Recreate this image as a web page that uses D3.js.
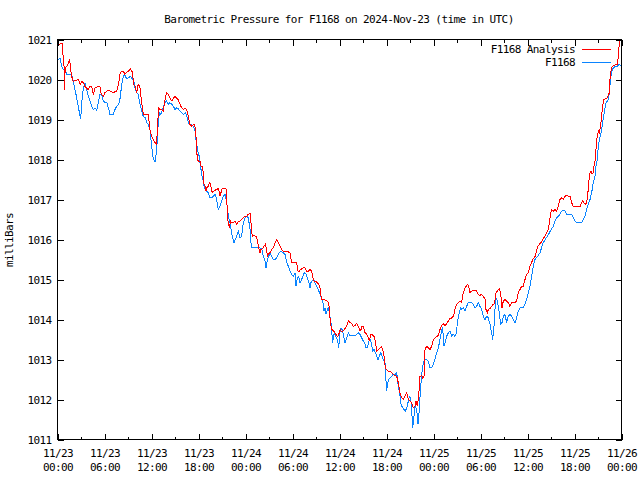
<!DOCTYPE html>
<html>
<head>
<meta charset="utf-8">
<script src="https://cdn.jsdelivr.net/npm/d3@7"></script>
<style>
  body { margin: 0; background: #fff; }
  text { font-family: 'DejaVu Sans Mono', monospace; font-size: 11px; letter-spacing: -0.6px; fill: #000; }
</style>
</head>
<body>
<svg id="chart"></svg>
<script>
const title = 'Barometric Pressure for F1168 on 2024-Nov-23 (time in UTC)'
const yLabel = 'milliBars'
const seriesNames = ['F1168 Analysis', 'F1168']
const seriesColors = ['#ff0000', '#0a84ff']
const yTicks = [1011, 1012, 1013, 1014, 1015, 1016, 1017, 1018, 1019, 1020, 1021]
const xTickHours = [0, 6, 12, 18, 24, 30, 36, 42, 48, 54, 60, 66, 72]
const xMinorHours = [3, 9, 15, 21, 27, 33, 39, 45, 51, 57, 63, 69]

// hours since 2024-11-23 00:00 UTC
const analysisHours = [0.0, 0.4, 0.66, 0.7, 0.83, 0.87, 0.96, 1.1, 1.3, 1.4, 1.55, 1.65, 1.8, 2.0, 2.45, 2.66, 2.9, 3.1, 3.3, 3.5, 3.7, 3.9, 4.15, 4.36, 4.57, 4.8, 5.2, 5.4, 5.6, 5.85, 6.06, 6.3, 6.5, 6.7, 6.9, 7.1, 7.3, 7.55, 7.8, 8.0, 8.2, 8.4, 8.6, 8.8, 9.05, 9.3, 9.5, 9.6, 9.7, 9.9, 10.1, 10.3, 10.5, 10.75, 10.95, 11.4, 11.6, 11.8, 12.0, 12.2, 12.45, 12.65, 12.75, 12.9, 13.1, 13.3, 13.5, 13.7, 13.9, 14.15, 14.35, 14.6, 14.8, 15.0, 15.2, 15.4, 15.65, 15.85, 16.1, 16.3, 16.5, 16.7, 16.9, 17.15, 17.43, 17.55, 17.68, 17.77, 17.85, 18.0, 18.19, 18.32, 18.53, 18.62, 18.7, 18.83, 18.96, 19.04, 19.26, 19.38, 19.55, 19.68, 19.81, 19.98, 20.23, 20.53, 20.66, 20.74, 20.87, 21.0, 21.51, 21.6, 21.72, 21.81, 21.94, 22.11, 22.23, 22.45, 22.66, 22.87, 23.09, 23.3, 23.51, 23.72, 23.94, 24.15, 24.36, 24.58, 24.7, 24.79, 24.92, 25.09, 25.34, 25.51, 25.68, 25.85, 25.98, 26.19, 26.36, 26.53, 26.7, 26.79, 26.91, 27.13, 27.34, 27.55, 27.77, 27.98, 28.19, 28.4, 28.62, 28.83, 29.04, 29.26, 29.47, 29.68, 29.89, 30.1, 30.32, 30.53, 30.7, 30.87, 31.04, 31.21, 31.38, 31.6, 31.81, 32.02, 32.23, 32.45, 32.57, 32.74, 33.0, 33.17, 33.34, 33.51, 33.64, 33.77, 34.36, 34.58, 34.7, 34.79, 34.92, 35.04, 35.22, 35.43, 35.64, 35.77, 35.98, 36.07, 36.2, 36.41, 36.58, 36.75, 36.92, 37.05, 37.17, 37.34, 37.56, 37.77, 37.98, 38.19, 38.41, 38.62, 38.75, 38.87, 39.05, 39.26, 39.47, 39.68, 39.81, 39.98, 40.11, 40.24, 40.41, 40.58, 40.75, 40.96, 41.17, 41.39, 41.51, 41.6, 41.73, 41.85, 42.02, 42.24, 42.45, 42.66, 42.87, 43.09, 43.3, 43.51, 43.73, 43.94, 44.15, 44.36, 44.58, 44.79, 45.0, 45.21, 45.43, 45.64, 45.77, 45.94, 46.07, 46.2, 46.28, 46.49, 46.62, 46.79, 46.92, 47.13, 47.34, 47.56, 47.77, 47.98, 48.19, 48.4, 48.62, 48.83, 49.05, 49.26, 49.47, 49.68, 49.9, 50.1, 50.32, 50.53, 50.66, 50.78, 50.95, 51.17, 51.38, 51.59, 51.8, 52.02, 52.23, 52.36, 52.53, 52.66, 52.87, 53.29, 53.51, 53.72, 53.93, 54.15, 54.36, 54.57, 54.7, 54.87, 55.0, 55.21, 55.42, 55.63, 55.8, 55.98, 56.15, 56.4, 56.57, 56.74, 56.91, 57.12, 57.34, 57.55, 57.76, 57.98, 58.19, 58.4, 58.61, 58.83, 59.04, 59.25, 59.46, 59.68, 59.89, 60.1, 60.32, 60.53, 60.66, 61.0, 61.3, 61.7, 62.2, 62.66, 62.78, 62.95, 63.08, 63.3, 63.51, 63.72, 63.93, 64.15, 64.36, 64.57, 64.78, 65.0, 65.21, 65.42, 65.64, 65.85, 66.06, 66.27, 66.49, 66.7, 66.91, 67.04, 67.21, 67.38, 67.55, 67.68, 67.81, 67.98, 68.1, 68.23, 68.4, 68.49, 68.66, 68.83, 69.04, 69.17, 69.25, 69.42, 69.59, 69.76, 70.02, 70.19, 70.44, 70.53, 70.7, 70.87, 71.04, 71.3, 71.47, 71.6, 71.72, 71.81]
const analysisValues = [1020.85, 1020.9, 1020.9, 1020.62, 1020.33, 1019.75, 1020.17, 1020.33, 1020.35, 1020.42, 1020.5, 1020.3, 1020.08, 1019.96, 1019.98, 1020.0, 1019.88, 1019.96, 1019.92, 1019.83, 1019.79, 1019.75, 1019.83, 1019.82, 1019.62, 1019.79, 1019.83, 1019.83, 1019.62, 1019.58, 1019.67, 1019.71, 1019.72, 1019.71, 1019.69, 1019.67, 1019.69, 1019.71, 1019.88, 1020.17, 1020.21, 1020.21, 1020.13, 1020.17, 1020.21, 1020.27, 1020.21, 1020.13, 1019.88, 1019.83, 1019.67, 1019.88, 1019.83, 1019.42, 1019.13, 1019.13, 1019.13, 1018.75, 1018.58, 1018.5, 1018.42, 1018.38, 1018.75, 1019.29, 1019.25, 1019.25, 1019.21, 1019.46, 1019.67, 1019.63, 1019.54, 1019.46, 1019.54, 1019.58, 1019.54, 1019.5, 1019.38, 1019.29, 1019.25, 1019.29, 1019.25, 1019.08, 1018.88, 1018.83, 1018.88, 1018.83, 1018.58, 1018.25, 1018.0, 1017.96, 1017.96, 1017.83, 1017.82, 1017.63, 1017.38, 1017.33, 1017.21, 1017.29, 1017.33, 1017.42, 1017.38, 1017.21, 1017.17, 1017.21, 1017.25, 1017.27, 1017.17, 1017.08, 1017.17, 1017.27, 1017.27, 1017.0, 1016.58, 1016.38, 1016.33, 1016.46, 1016.42, 1016.42, 1016.46, 1016.38, 1016.46, 1016.46, 1016.5, 1016.54, 1016.58, 1016.58, 1016.63, 1016.65, 1016.42, 1016.17, 1016.08, 1016.1, 1016.08, 1016.0, 1015.79, 1015.67, 1015.75, 1015.77, 1015.83, 1015.88, 1015.75, 1015.58, 1015.63, 1015.67, 1015.75, 1015.79, 1015.92, 1016.0, 1015.92, 1015.83, 1015.75, 1015.71, 1015.69, 1015.71, 1015.69, 1015.67, 1015.42, 1015.42, 1015.42, 1015.42, 1015.21, 1015.21, 1015.25, 1015.27, 1015.29, 1015.29, 1015.21, 1015.21, 1015.25, 1015.21, 1015.08, 1014.96, 1014.96, 1014.92, 1014.88, 1014.79, 1014.58, 1014.5, 1014.48, 1014.42, 1014.29, 1014.04, 1013.83, 1013.75, 1013.71, 1013.67, 1013.6, 1013.57, 1013.67, 1013.75, 1013.71, 1013.71, 1013.73, 1013.79, 1013.83, 1013.92, 1013.96, 1013.93, 1013.9, 1013.83, 1013.85, 1013.9, 1013.83, 1013.71, 1013.75, 1013.83, 1013.82, 1013.67, 1013.63, 1013.54, 1013.46, 1013.63, 1013.63, 1013.6, 1013.58, 1013.46, 1013.21, 1013.25, 1013.29, 1013.32, 1013.25, 1013.17, 1013.04, 1012.79, 1012.75, 1012.71, 1012.71, 1012.67, 1012.63, 1012.6, 1012.58, 1012.42, 1012.17, 1012.04, 1012.0, 1012.08, 1012.17, 1012.0, 1011.96, 1011.92, 1011.79, 1011.83, 1011.96, 1011.83, 1012.04, 1012.33, 1012.58, 1012.6, 1012.54, 1012.58, 1013.25, 1013.33, 1013.29, 1013.25, 1013.33, 1013.5, 1013.54, 1013.57, 1013.6, 1013.75, 1013.85, 1013.9, 1013.83, 1013.9, 1013.96, 1014.02, 1014.04, 1014.08, 1014.17, 1014.29, 1014.38, 1014.42, 1014.46, 1014.43, 1014.67, 1014.79, 1014.85, 1014.88, 1014.79, 1014.67, 1014.71, 1014.73, 1014.71, 1014.63, 1014.6, 1014.63, 1014.57, 1014.52, 1014.25, 1014.17, 1014.25, 1014.27, 1014.33, 1014.38, 1014.4, 1014.67, 1014.71, 1014.77, 1014.67, 1014.29, 1014.46, 1014.5, 1014.46, 1014.42, 1014.33, 1014.42, 1014.43, 1014.43, 1014.46, 1014.67, 1014.75, 1014.83, 1014.83, 1015.0, 1015.13, 1015.17, 1015.33, 1015.42, 1015.5, 1015.58, 1015.83, 1015.92, 1016.08, 1016.25, 1016.42, 1016.63, 1016.75, 1016.71, 1016.75, 1016.71, 1016.83, 1017.0, 1017.04, 1017.0, 1017.08, 1017.1, 1017.08, 1017.08, 1016.92, 1016.83, 1016.82, 1016.82, 1016.82, 1016.82, 1016.92, 1016.96, 1016.92, 1016.88, 1016.92, 1017.08, 1017.42, 1017.67, 1017.71, 1017.63, 1017.67, 1017.83, 1018.0, 1018.5, 1018.71, 1018.67, 1018.75, 1019.0, 1019.33, 1019.5, 1019.52, 1019.54, 1019.67, 1020.0, 1020.29, 1020.33, 1020.35, 1020.38, 1020.38, 1020.58, 1020.92, 1020.98]

const stationHours = [0.05, 0.33, 0.4, 0.53, 0.75, 0.96, 1.17, 1.38, 1.6, 1.81, 2.02, 2.15, 2.32, 2.45, 2.66, 2.79, 2.96, 3.09, 3.2, 3.38, 3.51, 3.72, 3.94, 4.15, 4.36, 4.57, 4.79, 5.0, 5.21, 5.42, 5.64, 5.85, 6.06, 6.28, 6.5, 6.7, 6.9, 7.1, 7.34, 7.55, 7.8, 8.0, 8.2, 8.4, 8.6, 8.8, 9.05, 9.3, 9.5, 9.7, 9.9, 10.1, 10.3, 10.5, 10.75, 10.95, 11.2, 11.4, 11.6, 11.8, 12.0, 12.2, 12.45, 12.65, 12.8, 13.0, 13.2, 13.4, 13.7, 13.9, 14.15, 14.35, 14.6, 14.8, 15.0, 15.2, 15.4, 15.65, 15.85, 16.1, 16.3, 16.5, 16.7, 16.9, 17.13, 17.34, 17.55, 17.68, 17.85, 17.98, 18.11, 18.19, 18.32, 18.45, 18.62, 18.7, 18.87, 19.04, 19.26, 19.47, 19.68, 19.89, 20.11, 20.32, 20.53, 20.74, 20.96, 21.17, 21.38, 21.6, 21.72, 21.85, 22.02, 22.19, 22.36, 22.53, 22.7, 22.87, 23.09, 23.3, 23.51, 23.72, 23.94, 24.15, 24.36, 24.58, 24.7, 24.83, 25.0, 25.43, 25.85, 26.06, 26.28, 26.49, 26.62, 26.79, 26.96, 27.13, 27.34, 27.55, 27.77, 27.98, 28.19, 28.4, 28.62, 28.83, 29.04, 29.26, 29.47, 29.68, 29.89, 30.11, 30.32, 30.45, 30.62, 30.79, 30.96, 31.17, 31.5, 31.73, 31.9, 32.02, 32.15, 32.24, 32.36, 32.49, 32.66, 32.79, 32.92, 33.09, 33.3, 33.51, 33.77, 33.94, 34.02, 34.15, 34.28, 34.45, 34.58, 34.7, 34.87, 35.0, 35.09, 35.22, 35.34, 35.47, 35.64, 35.77, 35.9, 36.07, 36.2, 36.32, 36.49, 36.7, 36.92, 37.13, 37.34, 37.56, 37.77, 37.98, 38.19, 38.41, 38.62, 38.83, 39.05, 39.26, 39.39, 39.56, 39.73, 39.9, 40.07, 40.24, 40.41, 40.58, 40.75, 40.92, 41.09, 41.26, 41.43, 41.6, 41.81, 41.94, 42.02, 42.15, 42.28, 42.45, 42.66, 42.87, 43.09, 43.3, 43.51, 43.73, 43.85, 44.07, 44.24, 44.41, 44.58, 44.79, 44.92, 45.09, 45.26, 45.34, 45.51, 45.64, 45.85, 46.02, 46.15, 46.28, 46.41, 46.53, 46.7, 46.92, 47.13, 47.34, 47.56, 47.77, 47.98, 48.19, 48.41, 48.62, 48.83, 49.05, 49.17, 49.34, 49.47, 49.68, 49.9, 50.1, 50.32, 50.53, 50.74, 50.87, 51.04, 51.17, 51.29, 51.46, 51.59, 51.8, 52.02, 52.23, 52.44, 52.66, 52.87, 53.08, 53.29, 53.51, 53.72, 53.93, 54.15, 54.36, 54.57, 54.78, 55.0, 55.21, 55.42, 55.55, 55.72, 55.85, 55.98, 56.15, 56.4, 56.57, 56.74, 56.91, 57.12, 57.34, 57.55, 57.76, 57.98, 58.19, 58.4, 58.61, 58.83, 59.04, 59.46, 59.68, 59.89, 60.1, 60.32, 60.53, 60.74, 60.95, 61.3, 61.6, 62.0, 62.6, 63.08, 63.3, 63.51, 63.72, 63.93, 64.15, 64.36, 64.57, 64.78, 65.0, 65.21, 65.42, 65.64, 65.85, 66.06, 66.27, 66.49, 66.7, 66.91, 67.13, 67.34, 67.55, 67.76, 67.98, 68.19, 68.4, 68.61, 68.74, 68.91, 69.04, 69.17, 69.34, 69.47, 69.59, 69.76, 69.89, 70.02, 70.19, 70.32, 70.44, 70.61, 70.74, 70.96, 71.17, 71.38, 71.51, 71.64, 71.9]
const stationValues = [1020.5, 1020.52, 1020.46, 1020.33, 1020.25, 1020.29, 1020.13, 1020.13, 1020.13, 1020.13, 1019.96, 1019.83, 1019.67, 1019.54, 1019.33, 1019.17, 1019.02, 1019.38, 1019.67, 1019.83, 1019.92, 1019.75, 1019.58, 1019.46, 1019.33, 1019.25, 1019.29, 1019.23, 1019.42, 1019.63, 1019.63, 1019.46, 1019.43, 1019.43, 1019.29, 1019.13, 1019.13, 1019.13, 1019.25, 1019.33, 1019.38, 1019.54, 1019.88, 1020.08, 1020.13, 1020.02, 1020.04, 1020.08, 1020.02, 1020.0, 1019.79, 1019.67, 1019.63, 1019.42, 1019.21, 1019.08, 1019.04, 1018.92, 1018.88, 1018.75, 1018.38, 1018.04, 1017.95, 1018.2, 1018.75, 1019.17, 1019.13, 1019.25, 1019.42, 1019.46, 1019.38, 1019.42, 1019.38, 1019.33, 1019.25, 1019.29, 1019.27, 1019.21, 1019.17, 1019.13, 1019.17, 1019.1, 1018.92, 1018.88, 1018.88, 1018.83, 1018.71, 1018.5, 1018.29, 1018.13, 1018.08, 1017.92, 1017.75, 1017.58, 1017.46, 1017.33, 1017.25, 1017.21, 1017.17, 1017.04, 1017.04, 1017.08, 1017.13, 1017.0, 1016.75, 1016.83, 1016.96, 1017.08, 1017.13, 1016.92, 1016.75, 1016.54, 1016.42, 1016.21, 1016.04, 1015.92, 1016.0, 1016.08, 1016.21, 1016.04, 1016.08, 1016.42, 1016.54, 1016.58, 1016.54, 1016.25, 1015.92, 1015.79, 1015.79, 1015.79, 1015.79, 1015.77, 1015.58, 1015.46, 1015.29, 1015.5, 1015.58, 1015.67, 1015.58, 1015.5, 1015.5, 1015.54, 1015.63, 1015.69, 1015.69, 1015.67, 1015.63, 1015.42, 1015.33, 1015.21, 1015.13, 1015.08, 1015.17, 1014.83, 1015.04, 1015.08, 1014.92, 1015.0, 1015.17, 1015.13, 1015.04, 1014.96, 1014.88, 1014.79, 1014.92, 1014.96, 1015.0, 1014.96, 1014.88, 1014.83, 1014.75, 1014.63, 1014.5, 1014.38, 1014.21, 1014.29, 1014.13, 1014.25, 1014.29, 1014.17, 1013.96, 1013.79, 1013.42, 1013.54, 1013.67, 1013.58, 1013.54, 1013.46, 1013.29, 1013.71, 1013.79, 1013.75, 1013.63, 1013.42, 1013.54, 1013.67, 1013.6, 1013.6, 1013.6, 1013.6, 1013.63, 1013.67, 1013.63, 1013.54, 1013.46, 1013.38, 1013.29, 1013.29, 1013.46, 1013.5, 1013.42, 1013.21, 1013.25, 1013.17, 1013.08, 1013.0, 1013.08, 1013.17, 1013.08, 1013.0, 1012.92, 1012.46, 1012.21, 1012.42, 1012.5, 1012.54, 1012.58, 1012.63, 1012.63, 1012.67, 1012.33, 1012.08, 1011.88, 1011.79, 1011.75, 1011.71, 1011.79, 1011.96, 1012.08, 1012.04, 1011.58, 1011.29, 1011.58, 1011.83, 1011.75, 1011.38, 1011.67, 1012.08, 1012.42, 1012.67, 1012.92, 1013.0, 1013.0, 1012.96, 1012.79, 1012.79, 1012.88, 1013.0, 1013.17, 1013.29, 1013.5, 1013.75, 1013.79, 1013.33, 1013.42, 1013.58, 1013.67, 1013.71, 1013.58, 1013.63, 1013.58, 1013.63, 1013.88, 1014.08, 1014.17, 1014.29, 1014.25, 1014.29, 1014.21, 1014.33, 1014.42, 1014.42, 1014.42, 1014.38, 1014.29, 1014.33, 1014.42, 1014.33, 1014.25, 1014.08, 1014.0, 1014.08, 1014.04, 1013.88, 1013.67, 1013.5, 1013.83, 1014.25, 1014.54, 1014.46, 1014.17, 1013.88, 1013.92, 1014.08, 1014.13, 1013.92, 1014.08, 1014.13, 1014.08, 1014.0, 1013.92, 1014.04, 1014.21, 1014.29, 1014.29, 1014.38, 1014.5, 1014.67, 1014.83, 1015.08, 1015.33, 1015.5, 1015.58, 1015.67, 1015.92, 1016.1, 1016.27, 1016.33, 1016.46, 1016.54, 1016.58, 1016.63, 1016.71, 1016.73, 1016.71, 1016.63, 1016.63, 1016.63, 1016.63, 1016.54, 1016.46, 1016.42, 1016.42, 1016.42, 1016.42, 1016.5, 1016.58, 1016.75, 1016.88, 1017.0, 1017.17, 1017.42, 1017.58, 1017.83, 1018.0, 1018.33, 1018.5, 1018.63, 1018.75, 1018.92, 1019.13, 1019.29, 1019.42, 1019.46, 1019.5, 1019.67, 1020.0, 1020.21, 1020.29, 1020.32, 1020.32, 1020.33, 1020.38, 1020.35]

const w = 640
const h = 480
const margin = { left: 57.5, right: 18.5, top: 39.5, bottom: 40.5 }
const start = Date.UTC(2024, 10, 23)
const hourMs = 3600 * 1000
const toDate = hr => new Date(start + hr * hourMs)

const svg = d3.select('#chart')
    .attr('width', w)
    .attr('height', h)

// set scaling
const xScale = d3.scaleUtc()
    .domain([toDate(0), toDate(72)])
    .range([margin.left, w - margin.right])
const yScale = d3.scaleLinear()
    .domain([1011, 1021])
    .range([h - margin.bottom, margin.top])

// title and axis label
svg.append('text')
    .attr('x', 339)
    .attr('y', 23)
    .attr('text-anchor', 'middle')
    .text(title)
svg.append('text')
    .attr('transform', 'translate(13,240) rotate(-90)')
    .attr('text-anchor', 'middle')
    .text(yLabel)

// series lines, drawn aliased like the gnuplot png terminal
const line = d3.line()
    .x(d => xScale(toDate(d[0])))
    .y(d => yScale(d[1]))
const analysis = analysisHours.map((hr, i) => [hr, analysisValues[i]])
const station = stationHours.map((hr, i) => [hr, stationValues[i]])
svg.append('path')
    .datum(station)
    .attr('fill', 'none')
    .attr('stroke', seriesColors[1])
    .attr('stroke-width', 1)
    .attr('shape-rendering', 'crispEdges')
    .attr('d', line)
svg.append('path')
    .datum(analysis)
    .attr('fill', 'none')
    .attr('stroke', seriesColors[0])
    .attr('stroke-width', 1)
    .attr('shape-rendering', 'crispEdges')
    .attr('d', line)

// axes: gnuplot style, ticks pointing inward and mirrored
const plotBottom = h - margin.bottom
const plotTop = margin.top
const plotLeft = margin.left
const plotRight = w - margin.right
const dayFmt = d3.utcFormat('%m/%d')
const hhmm = d3.utcFormat('%H:%M')

const xAxis = d3.axisBottom(xScale)
    .tickValues(xTickHours.map(toDate))
    .tickSize(-6)
    .tickPadding(10)
    .tickFormat(d => dayFmt(d))
const gx = svg.append('g')
    .attr('transform', `translate(0,${plotBottom})`)
    .call(xAxis)
gx.selectAll('.tick text').each(function (d) {
    const t = d3.select(this)
    t.text(null)
    t.append('tspan').attr('x', 0).attr('dy', '0.71em').text(dayFmt(d))
    t.append('tspan').attr('x', 0).attr('dy', '1.2em').text(hhmm(d))
})
svg.append('g')
    .attr('transform', `translate(0,${plotBottom})`)
    .call(d3.axisBottom(xScale).tickValues(xMinorHours.map(toDate)).tickSize(-3).tickFormat(''))
svg.append('g')
    .attr('transform', `translate(0,${plotTop})`)
    .call(d3.axisTop(xScale).tickValues(xTickHours.map(toDate)).tickSize(-6).tickFormat(''))
svg.append('g')
    .attr('transform', `translate(0,${plotTop})`)
    .call(d3.axisTop(xScale).tickValues(xMinorHours.map(toDate)).tickSize(-3).tickFormat(''))

svg.append('g')
    .attr('transform', `translate(${plotLeft},0)`)
    .call(d3.axisLeft(yScale).tickValues(yTicks).tickSize(-6).tickPadding(6).tickFormat(d3.format('d')))
svg.append('g')
    .attr('transform', `translate(${plotRight},0)`)
    .call(d3.axisRight(yScale).tickValues(yTicks).tickSize(-6).tickFormat(''))

svg.selectAll('.domain').remove()
svg.selectAll('.tick line').attr('stroke', '#000').attr('shape-rendering', 'crispEdges')
svg.selectAll('.tick text').attr('font-family', null).attr('font-size', null).attr('fill', null)

svg.append('rect')
    .attr('x', plotLeft)
    .attr('y', plotTop)
    .attr('width', plotRight - plotLeft)
    .attr('height', plotBottom - plotTop)
    .attr('fill', 'none')
    .attr('stroke', '#000')
    .attr('shape-rendering', 'crispEdges')

// legend
const legend = svg.append('g')
seriesNames.forEach((name, i) => {
    const ly = 49.5 + i * 13
    legend.append('text')
        .attr('x', 575)
        .attr('y', ly)
        .attr('dy', '0.35em')
        .attr('text-anchor', 'end')
        .text(name)
    legend.append('line')
        .attr('x1', 582)
        .attr('x2', 611)
        .attr('y1', ly)
        .attr('y2', ly)
        .attr('stroke', seriesColors[i])
        .attr('shape-rendering', 'crispEdges')
})
</script>
</body>
</html>
